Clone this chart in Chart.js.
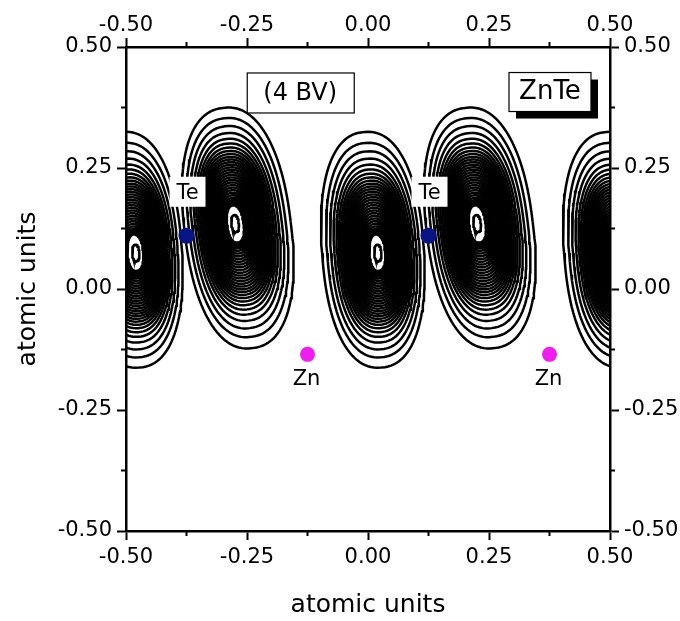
<!DOCTYPE html>
<html>
<head>
<meta charset="utf-8">
<script src="https://cdn.jsdelivr.net/npm/chart.js@4.4.1/dist/chart.umd.min.js"></script>
<style>
  html, body { margin: 0; padding: 0; background: #fff; }
  canvas { display: block; }
</style>
</head>
<body>
<canvas id="chart" width="680" height="621"></canvas>
<script>
// axis ticks (atomic units)
const majorTicks = [-0.5, -0.25, 0, 0.25, 0.5];
const minorTicks = [-0.375, -0.125, 0.125, 0.375];

// the two density lobes of one cell, repeated every 0.5 along x
const lobeX = [0.010, 0.231];      // centre of outer contour
const lobeY = [0.081, 0.126];
const coreX = [0.021, 0.225];      // density maximum
const coreY = [0.074, 0.136];
const lobeRx = [0.105, 0.110];
const lobeRy = [0.244, 0.250];
const lobeTilt = [4, 7];           // degrees, top leaning left
const cellShift = [-0.5, 0, 0.5];

// contour levels, as fraction of the outer contour size
const levels = [1.00, 0.91, 0.84, 0.78, 0.73, 0.69, 0.655, 0.625, 0.598, 0.573, 0.55,
  0.528, 0.506, 0.484, 0.462, 0.44, 0.418, 0.396, 0.374, 0.352, 0.33, 0.308, 0.286,
  0.264, 0.242, 0.22, 0.20, 0.185, 0.17, 0.155, 0.07];

// atoms
const teX = [-0.375, 0.125];
const teY = [0.11, 0.11];
const znX = [-0.125, 0.375];
const znY = [-0.135, -0.135];

const FONT = "'DejaVu Sans', sans-serif";

function contour(i, shift, k) {
  const pts = [];
  const th = lobeTilt[i] * Math.PI / 180;
  const cx = coreX[i] + k * (lobeX[i] - coreX[i]) + shift;
  const cy = coreY[i] + k * (lobeY[i] - coreY[i]);
  const e = 2 / 2.3;
  for (let j = 0; j <= 120; j++) {
    const t = j / 120 * 2 * Math.PI;
    const c = Math.cos(t), s = Math.sin(t);
    const u = Math.sign(c) * Math.pow(Math.abs(c), e) * lobeRx[i] * k;
    const v = Math.sign(s) * Math.pow(Math.abs(s), e) * lobeRy[i] * k;
    pts.push({ x: cx + u * Math.cos(th) - v * Math.sin(th), y: cy + u * Math.sin(th) + v * Math.cos(th) });
  }
  return pts;
}

const datasets = [
  { label: 'Te', data: teX.map((x, i) => ({ x: x, y: teY[i] })), pointRadius: 8,
    backgroundColor: '#0a1585', borderWidth: 0, showLine: false },
  { label: 'Zn', data: znX.map((x, i) => ({ x: x, y: znY[i] })), pointRadius: 7.5,
    backgroundColor: '#f01cf0', borderWidth: 0, showLine: false }
];
lobeX.forEach((_, i) => {
  cellShift.forEach(sh => {
    levels.forEach(k => {
      datasets.push({ data: contour(i, sh, k), showLine: true, pointRadius: 0,
        borderColor: '#000', borderWidth: 2.5, tension: 0, clip: 0 });
    });
  });
});

function axis(pos, size) {
  const horiz = pos === 'top' || pos === 'bottom';
  return {
    type: 'linear', position: pos, min: -0.5, max: 0.5,
    afterBuildTicks: s => { s.ticks = majorTicks.map(v => ({ value: v })); },
    afterFit: s => { if (horiz) s.height = size; else s.width = size; },
    border: { display: true, color: '#000', width: 2.5 },
    grid: { drawOnChartArea: false, drawTicks: true, tickLength: 9, tickWidth: 2, tickColor: '#000' },
    ticks: { color: '#000', font: { family: FONT, size: 21 },
      padding: pos === 'bottom' ? 5 : (pos === 'top' ? 0 : 5),
      maxRotation: 0, autoSkip: false, callback: v => v.toFixed(2) }
  };
}

const scales = {
  x: axis('bottom', 90),
  x2: axis('top', 47),
  y: axis('left', 126),
  y2: axis('right', 70)
};
scales.x.title = { display: true, text: 'atomic units', color: '#000',
  font: { family: FONT, size: 25 }, padding: { top: 0, bottom: 1 } };
scales.y.title = { display: true, text: 'atomic units', color: '#000',
  font: { family: FONT, size: 25 }, padding: { top: 13, bottom: 0 } };

const decor = {
  id: 'decor',
  afterDatasetsDraw(chart) {
    const ctx = chart.ctx;
    const sx = chart.scales.x, sy = chart.scales.y;
    const a = chart.chartArea;
    ctx.save();
    // minor ticks on all four sides
    ctx.strokeStyle = '#000';
    ctx.lineWidth = 2;
    ctx.beginPath();
    minorTicks.forEach(v => {
      const px = sx.getPixelForValue(v), py = sy.getPixelForValue(v);
      ctx.moveTo(px, a.bottom); ctx.lineTo(px, a.bottom + 5);
      ctx.moveTo(px, a.top); ctx.lineTo(px, a.top - 5);
      ctx.moveTo(a.left, py); ctx.lineTo(a.left - 5, py);
      ctx.moveTo(a.right, py); ctx.lineTo(a.right + 5, py);
    });
    ctx.stroke();

    ctx.textAlign = 'center';
    ctx.textBaseline = 'middle';
    // Te labels on white patches
    ctx.font = '21px ' + FONT;
    teX.forEach((x, i) => {
      const px = sx.getPixelForValue(x), py = sy.getPixelForValue(teY[i]) - 44;
      ctx.fillStyle = '#fff';
      ctx.fillRect(px - 17, py - 15, 36, 30);
      ctx.fillStyle = '#000';
      ctx.fillText('Te', px + 1, py + 2);
    });
    znX.forEach((x, i) => {
      const px = sx.getPixelForValue(x), py = sy.getPixelForValue(znY[i]) + 25;
      ctx.fillStyle = '#000';
      ctx.fillText('Zn', px - 1, py);
    });

    // (4 BV) box
    let bx = sx.getPixelForValue(-0.140), by = sy.getPixelForValue(0.405);
    ctx.fillStyle = '#fff';
    ctx.fillRect(bx - 53, by - 20, 107, 40);
    ctx.lineWidth = 1.2;
    ctx.strokeRect(bx - 53, by - 20, 107, 40);
    ctx.fillStyle = '#000';
    ctx.font = '24px ' + FONT;
    ctx.fillText('(4 BV)', bx, by + 1);

    // ZnTe box with shadow
    bx = sx.getPixelForValue(0.376); by = sy.getPixelForValue(0.408);
    ctx.fillStyle = '#000';
    ctx.fillRect(bx - 41 + 7, by - 19 + 7, 82, 39);
    ctx.fillStyle = '#fff';
    ctx.fillRect(bx - 41, by - 19, 82, 39);
    ctx.strokeRect(bx - 41, by - 19, 82, 39);
    ctx.fillStyle = '#000';
    ctx.font = '26px ' + FONT;
    ctx.fillText('ZnTe', bx, by + 1);
    ctx.restore();
  }
};

new Chart(document.getElementById('chart'), {
  type: 'scatter',
  data: { datasets: datasets },
  options: {
    responsive: false,
    devicePixelRatio: 1,
    animation: false,
    layout: { padding: 0 },
    plugins: { legend: { display: false }, tooltip: { enabled: false } },
    scales: scales
  },
  plugins: [decor]
});
</script>
</body>
</html>
